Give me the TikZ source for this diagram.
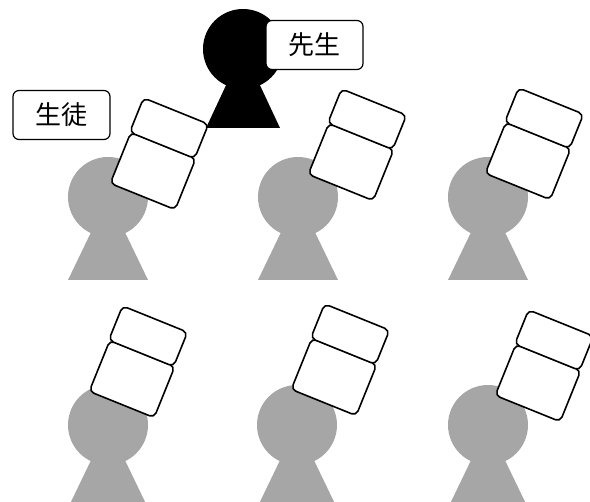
\documentclass[tikz,border=0pt]{standalone}
\usepackage{fontspec}
\newfontfamily\jp{Noto Sans CJK JP}
\definecolor{pupil}{HTML}{A6A6A6}
\begin{document}
\begin{tikzpicture}[x=1pt, y=-1pt,
  deskbox/.style={draw, fill=white, line width=1.6pt, rounded corners=5pt,
    minimum width=70pt, rotate=-22, inner sep=0pt},
  tag/.style={draw, fill=white, line width=1.2pt, rounded corners=6pt,
    minimum width=97pt, minimum height=49pt, font=\jp\fontsize{26}{26}\selectfont}]
\useasboundingbox (0,0) rectangle (590,502);
\clip (0,0) rectangle (590,502);
% teacher
\fill[black] (243,49) circle[radius=40pt];
\fill[black] (243,49) -- (206,128) -- (280,128) -- cycle;
% pupils and their stacks
\foreach \hx/\hy/\bx/\by/\n in {108/197/153/171/a, 298/197/351/162/b, 488/197/528/161/c,
                               108/425/132/379/d, 297/425/334/377/e, 488/425/538/383/f} {
  \fill[pupil] (\hx,\hy) circle[radius=40pt];
  \fill[pupil] (\hx,\hy) -- ++(-40,83) -- ++(80,0) -- cycle;
  \node[deskbox, minimum height=55pt] (low\n) at (\bx,\by) {};
  \node[deskbox, minimum height=37pt] (up\n) at ([shift={(16.1,-42.8)}]low\n.center) {};
}
\node[tag] (sensei) at (314.5,45) {先生};
\node[tag] (seito) at (61.5,115) {生徒};
\end{tikzpicture}
\end{document}
